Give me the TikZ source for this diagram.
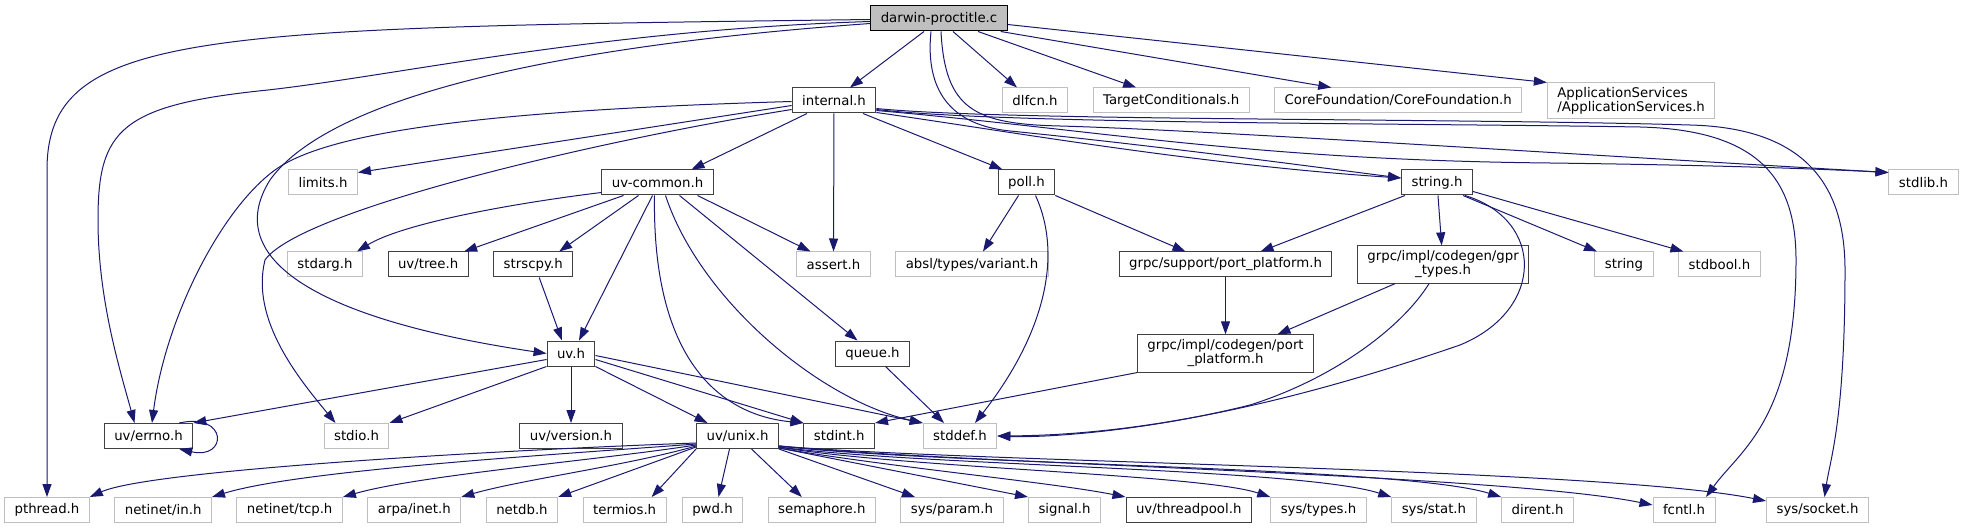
\documentclass[tikz,border=0pt]{standalone}
\usepackage{fontspec}
\setmainfont{DejaVu Sans}
\usetikzlibrary{positioning}
\usetikzlibrary{arrows.meta}
\definecolor{edgeblue}{HTML}{191970}
\definecolor{extgray}{HTML}{BFBFBF}
\definecolor{docgray}{HTML}{404040}
\tikzset{
	doc/.style={draw=docgray, line width=1pt, fill=white},
	ext/.style={draw=extgray, line width=1pt, fill=white},
	root/.style={draw=black, line width=1pt, fill=extgray},
	incl/.style={draw=edgeblue, line width=1pt, -{Triangle[length=13pt,width=9pt]}}
}
\begin{document}
\begin{tikzpicture}[x=1pt, y=-1pt, node distance=24.5pt,
		style={align=center, minimum height=25pt, inner xsep=10pt, inner ysep=5pt, font=\fontsize{13.3}{14}\selectfont}]
		\useasboundingbox (0,0) rectangle (1964,529);
		% rows from top to bottom
		\node[root] (DP) at (939,18.5) {darwin-proctitle.c};
		\node[doc] (IN) at (834,100.5) {internal.h};
		\node[ext] (DL) at (1035,100.5) {dlfcn.h};
		\node[ext, right=of DL] (TC) {TargetConditionals.h};
		\node[ext, right=of TC] (CF) {CoreFoundation/CoreFoundation.h};
		\node[ext, right=of CF, align=left] (AS) {ApplicationServices\\/ApplicationServices.h};
		\node[ext] (LI) at (323,182.5) {limits.h};
		\node[doc] (UC) at (657.5,182.5) {uv-common.h};
		\node[doc] (PO) at (1026.5,182.5) {poll.h};
		\node[doc] (ST) at (1437,182.5) {string.h};
		\node[ext] (SL) at (1923.5,182.5) {stdlib.h};
		\node[ext] (SA) at (325,264.5) {stdarg.h};
		\node[doc, right=of SA] (TR) {uv/tree.h};
		\node[doc, right=of TR] (SC) {strscpy.h};
		\node[ext] (AT) at (833.5,264.5) {assert.h};
		\node[ext, right=of AT] (VA) {absl/types/variant.h};
		\node[doc] (SP) at (1225.5,264.5) {grpc/support/port\_platform.h};
		\node[doc, right=of SP] (GT) {grpc/impl/codegen/gpr\\\_types.h};
		\node[ext] (SS) at (1624,264.5) {string};
		\node[ext, right=of SS] (SB) {stdbool.h};
		\node[doc] (UV) at (571,353.5) {uv.h};
		\node[doc] (QU) at (872.5,353.5) {queue.h};
		\node[doc] (PP) at (1225.5,353.5) {grpc/impl/codegen/port\\\_platform.h};
		\node[doc] (ER) at (148.5,436) {uv/errno.h};
		\node[ext] (SI) at (356.5,436) {stdio.h};
		\node[doc] (VE) at (571,436) {uv/version.h};
		\node[doc] (UX) at (737.5,436) {uv/unix.h};
		\node[doc, right=of UX] (SN) {stdint.h};
		\node[ext] (SD) at (960,436) {stddef.h};
		\node[ext] (PT) at (47,510) {pthread.h};
		\node[ext, right=of PT] (NI) {netinet/in.h};
		\node[ext, right=of NI] (NT) {netinet/tcp.h};
		\node[ext, right=of NT] (AI) {arpa/inet.h};
		\node[ext, right=of AI] (ND) {netdb.h};
		\node[ext, right=of ND] (TE) {termios.h};
		\node[ext] (PW) at (712.5,510) {pwd.h};
		\node[ext, right=of PW] (SE) {semaphore.h};
		\node[ext, right=of SE] (PA) {sys/param.h};
		\node[ext, right=of PA] (SG) {signal.h};
		\node[doc, right=of SG] (TP) {uv/threadpool.h};
		\node[ext] (TY) at (1318.5,510) {sys/types.h};
		\node[ext, right=of TY] (SM) {sys/stat.h};
		\node[ext, right=of SM] (DI) {dirent.h};
		\node[ext] (FC) at (1684,510) {fcntl.h};
		\node[ext] (SK) at (1817.5,510) {sys/socket.h};
		% darwin-proctitle.c
		\draw[incl] ([xshift=-15pt]DP.south) -- ([xshift=16pt]IN.north);
		\draw[incl] ([xshift=14pt]DP.south) -- ([xshift=-18pt]DL.north);
		\draw[incl] ([xshift=39pt]DP.south) -- ([xshift=-35pt]TC.north);
		\draw[incl] ([xshift=-7pt]DP.south east) -- ([xshift=-67pt]CF.north);
		\draw[incl] ([yshift=-6pt]DP.east) -- ([yshift=18pt]AS.west);
		\draw[incl] ([yshift=-1pt]DP.west) .. controls (200,28) and (47,30) .. (47,170) -- (PT);
		\draw[incl] ([yshift=-3pt]DP.west) .. controls (600,30) and (400,75) .. (268,90) .. controls (120,105) and (98,130) .. (98,220) .. controls (98,300) and (120,370) .. ([xshift=-14pt]ER.north);
		\draw[incl] ([yshift=-5pt]DP.west) .. controls (500,50) and (320,110) .. (270,180) .. controls (220,260) and (320,320) .. (UV.west);
		\draw[incl] ([xshift=-8pt]DP.south) .. controls (925,90) and (950,125) .. (1010,131) .. controls (1150,145) and (1300,165) .. ([yshift=4.5pt]ST.west);
		\draw[incl] ([xshift=2pt]DP.south) .. controls (945,110) and (975,124) .. (1060,126) .. controls (1200,130) and (1500,150) .. ([yshift=10pt]SL.west);
		% internal.h
		\draw[incl] ([xshift=-27pt]IN.south) -- ([xshift=34pt]UC.north);
		\draw[incl] (IN) -- (AT);
		\draw[incl] ([xshift=29pt]IN.south) -- ([xshift=-24pt]PO.north);
		\draw[incl] ([yshift=-5pt]IN.west) -- ([yshift=10pt]LI.east);
		\draw[incl] ([yshift=-1pt]IN.west) .. controls (500,110) and (330,130) .. (275,170) .. controls (220,210) and (165,320) .. ([xshift=3.5pt]ER.north);
		\draw[incl] ([yshift=-9pt]IN.west) .. controls (600,140) and (300,210) .. (265,260) .. controls (250,320) and (300,380) .. ([xshift=-21pt]SI.north);
		\draw[incl] ([yshift=-12pt]IN.east) .. controls (1000,130) and (1200,165) .. ([yshift=4.5pt]ST.west);
		\draw[incl] ([yshift=-10pt]IN.east) .. controls (1100,130) and (1250,160) .. (1550,163) .. controls (1700,165) and (1800,168) .. ([yshift=10pt]SL.west);
		\draw[incl] ([yshift=-9pt]IN.east) .. controls (1000,124) and (1400,123) .. (1640,127) .. controls (1760,130) and (1796,180) .. (1796,260) .. controls (1796,420) and (1740,450) .. ([xshift=22pt]FC.north);
		\draw[incl] ([yshift=-8pt]IN.east) .. controls (1000,121) and (1450,118) .. (1690,125) .. controls (1810,128) and (1845,190) .. (1845,270) .. controls (1845,420) and (1830,460) .. ([xshift=7pt]SK.north);
		% uv-common.h
		\draw[incl] ([yshift=-10pt]UC.west) .. controls (500,205) and (400,225) .. ([xshift=32pt]SA.north);
		\draw[incl] ([xshift=-34pt]UC.south) -- ([xshift=36pt]TR.north);
		\draw[incl] ([xshift=-19pt]UC.south) -- ([xshift=26pt]SC.north);
		\draw[incl] ([xshift=-5pt]UC.south) -- ([xshift=8pt]UV.north);
		\draw[incl] ([xshift=-3pt]UC.south) .. controls (652,360) and (720,415) .. (SN.north west);
		\draw[incl] ([xshift=8pt]UC.south) .. controls (700,300) and (820,400) .. (SD.north west);
		\draw[incl] ([xshift=22pt]UC.south) -- ([xshift=-15pt]QU.north);
		\draw[incl] ([xshift=40pt]UC.south) -- ([xshift=-23pt]AT.north);
		% strscpy.h, poll.h, queue.h
		\draw[incl] ([xshift=6pt]SC.south) -- ([xshift=-9pt]UV.north);
		\draw[incl] ([xshift=-8pt]PO.south) -- ([xshift=11pt]VA.north);
		\draw[incl] ([xshift=9pt]PO.south) .. controls (1065,260) and (1040,340) .. ([xshift=15pt]SD.north);
		\draw[incl] (PO.south east) -- ([xshift=-40pt]SP.north);
		\draw[incl] ([xshift=13pt]QU.south) -- ([xshift=-16pt]SD.north);
		% string.h
		\draw[incl] ([xshift=-32pt]ST.south) -- ([xshift=35pt]SP.north);
		\draw[incl] (ST) -- (GT);
		\draw[incl] ([xshift=26pt]ST.south) -- ([xshift=-27pt]SS.north);
		\draw[incl] ([yshift=-9pt]ST.east) -- ([xshift=-36pt]SB.north);
		\draw[incl] ([xshift=28pt]ST.south) .. controls (1545,220) and (1545,310) .. (1460,345) .. controls (1300,400) and (1150,435) .. (SD.east);
		% grpc headers
		\draw[incl] ([xshift=-48pt]GT.south) -- ([xshift=52pt]PP.north);
		\draw[incl] ([xshift=-14pt]GT.south) .. controls (1400,330) and (1330,380) .. (1250,405) .. controls (1150,430) and (1050,438) .. (SD.east);
		\draw[incl] (SP) -- (PP);
		\draw[incl] (PP.south west) -- (SN.north east);
		% uv.h
		\draw[incl] ([yshift=-6pt]UV.west) -- (ER.north east);
		\draw[incl] (UV.south west) -- (SI.north east);
		\draw[incl] (UV) -- (VE);
		\draw[incl] (UV.south east) -- ([xshift=-30pt]UX.north);
		\draw[incl] ([yshift=-6pt]UV.east) -- (SN.north west);
		\draw[incl] ([yshift=-2pt]UV.east) -- (SD.north west);
		\draw[incl] ([xshift=-14pt]ER.north east) .. controls (228,412) and (228,460) .. ([xshift=-14pt]ER.south east);
		% uv/unix.h
		\draw[incl] ([yshift=-7pt]UX.west) .. controls (500,450) and (150,470) .. (PT.north east);
		\draw[incl] ([yshift=-8pt]UX.west) .. controls (550,455) and (300,470) .. (NI.north east);
		\draw[incl] ([yshift=-9pt]UX.west) .. controls (600,460) and (420,475) .. (NT.north east);
		\draw[incl] ([yshift=-10pt]UX.west) .. controls (630,465) and (520,480) .. (AI.north east);
		\draw[incl] ([yshift=-11pt]UX.west) -- (ND.north east);
		\draw[incl] (UX.south west) -- ([xshift=27pt]TE.north);
		\draw[incl] ([xshift=-8pt]UX.south) -- ([xshift=6pt]PW.north);
		\draw[incl] ([xshift=14pt]UX.south) -- ([xshift=-20pt]SE.north);
		\draw[incl] (UX.south east) -- ([xshift=-37pt]PA.north);
		\draw[incl] ([yshift=1pt]UX.south east) -- (SG.north west);
		\draw[incl] ([yshift=1pt]UX.south east) .. controls (880,466) and (1050,482) .. (TP.north west);
		\draw[incl] ([yshift=2pt]UX.south east) .. controls (900,468) and (1200,474) .. (TY.north west);
		\draw[incl] ([yshift=2pt]UX.south east) .. controls (920,466) and (1300,468) .. (SM.north west);
		\draw[incl] ([yshift=3pt]UX.south east) .. controls (940,465) and (1400,466) .. (DI.north west);
		\draw[incl] ([yshift=3pt]UX.south east) .. controls (960,464) and (1500,474) .. ([yshift=5pt]FC.west);
		\draw[incl] ([yshift=3pt]UX.south east) .. controls (980,463) and (1600,468) .. ([yshift=9pt]SK.west);
\end{tikzpicture}
\end{document}
